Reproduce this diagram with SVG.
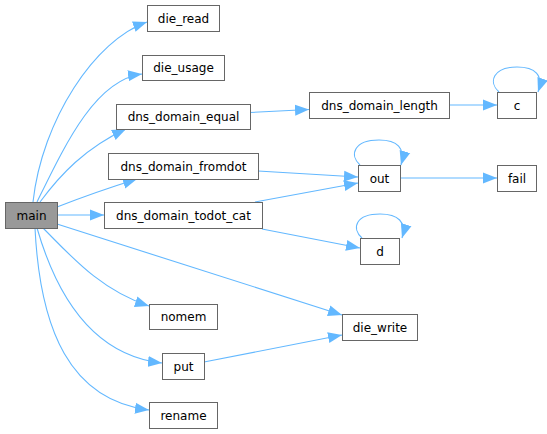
<svg xmlns="http://www.w3.org/2000/svg" width="547" height="434" viewBox="0 0 547 434">
<defs>
<style>
.n rect{fill:#fff;stroke:#666;stroke-width:1}
.n.m rect{fill:#999}
.n text{font-family:"DejaVu Sans",sans-serif;font-size:12px;fill:#000;text-anchor:middle}
.e path{fill:none;stroke:#63b8ff;stroke-width:1.1;marker-end:url(#ah)}
</style>
<marker id="ah" markerUnits="userSpaceOnUse" markerWidth="15" markerHeight="12" refX="14" refY="5.5" orient="auto" viewBox="0 0 15 11">
<path d="M0,0 L14,5.5 L0,11 z" fill="#63b8ff"/>
</marker>
</defs>
<rect width="547" height="434" fill="#fff"/>
<g id="edges" class="e">
<path d="M33,202 C42,120 95,40 147,22"/>
<path d="M37,202 C65,145 95,80 142,74"/>
<path d="M40,202 C60,175 85,148 126,129"/>
<path d="M57,207 C80,198 105,189 137,179"/>
<path d="M57,215 L104,215"/>
<path d="M57,224 L342,315"/>
<path d="M43,228 C70,255 100,290 149,306"/>
<path d="M37,228 C55,290 90,355 162,363"/>
<path d="M35,228 C40,330 70,400 149,410"/>
<path d="M204,362 L342,335"/>
<path d="M250,112.5 L309,109.5"/>
<path d="M449,105 L497,105"/>
<path d="M499,92 C488,82 493,67 517,67 C535,67 544,75 538,92"/>
<path d="M258,171 L358,177"/>
<path d="M255,202 L358,183"/>
<path d="M262,229 L360,248"/>
<path d="M400,178 L497,178"/>
<path d="M360,165 C349,155 354,140 379,140 C397,140 406,148 401,165"/>
<path d="M362,238 C351,228 356,214 380,214 C398,214 407,222 402,238"/>
</g>
<g id="main" class="n m"><rect x="5.5" y="202.5" width="52" height="26"/><text x="31.5" y="219.5">main</text></g>
<g id="die_read" class="n"><rect x="147.5" y="5.5" width="72" height="26"/><text x="183.5" y="22.5">die_read</text></g>
<g id="die_usage" class="n"><rect x="142.5" y="55.5" width="82" height="25"/><text x="183.5" y="72">die_usage</text></g>
<g id="dns_domain_equal" class="n"><rect x="116.5" y="104.5" width="134" height="25"/><text x="183.5" y="121">dns_domain_equal</text></g>
<g id="dns_domain_fromdot" class="n"><rect x="108.5" y="153.5" width="150" height="26"/><text x="183.5" y="170.5">dns_domain_fromdot</text></g>
<g id="dns_domain_todot_cat" class="n"><rect x="104.5" y="202.5" width="158" height="26"/><text x="183.5" y="219.5">dns_domain_todot_cat</text></g>
<g id="nomem" class="n"><rect x="149.5" y="304.5" width="68" height="25"/><text x="183.5" y="321">nomem</text></g>
<g id="put" class="n"><rect x="162.5" y="353.5" width="42" height="26"/><text x="183.5" y="370.5">put</text></g>
<g id="rename" class="n"><rect x="149.5" y="402.5" width="68" height="26"/><text x="183.5" y="419.5">rename</text></g>
<g id="dns_domain_length" class="n"><rect x="309.5" y="92.5" width="140" height="26"/><text x="379.5" y="109.5">dns_domain_length</text></g>
<g id="c" class="n"><rect x="497.5" y="92.5" width="39" height="26"/><text x="517" y="109.5">c</text></g>
<g id="out" class="n"><rect x="358.5" y="165.5" width="42" height="26"/><text x="379.5" y="182.5">out</text></g>
<g id="fail" class="n"><rect x="497.5" y="165.5" width="39" height="26"/><text x="517" y="182.5">fail</text></g>
<g id="d" class="n"><rect x="360.5" y="238.5" width="39" height="26"/><text x="380" y="255.5">d</text></g>
<g id="die_write" class="n"><rect x="342.5" y="314.5" width="75" height="26"/><text x="380" y="331.5">die_write</text></g>
</svg>
